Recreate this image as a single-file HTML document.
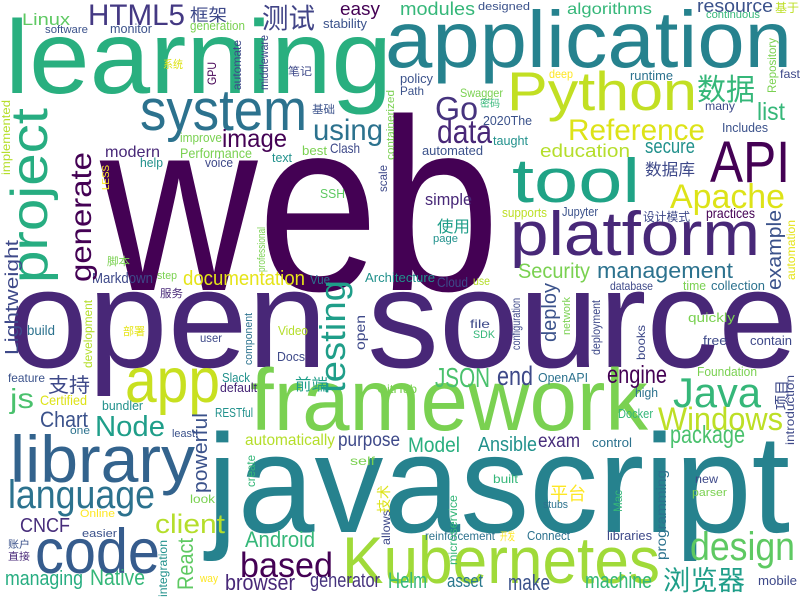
<!DOCTYPE html>
<html><head><meta charset="utf-8"><style>
html,body{margin:0;padding:0;background:#fff;}
svg{display:block;}
text{font-family:"Liberation Sans","Noto Sans CJK SC",sans-serif;}
</style></head><body>
<svg id="cloud" width="800" height="600" viewBox="0 0 800 600">
<rect width="800" height="600" fill="#fff"/>
</svg>
<script>
// word, x, baseline y, font size, color, width
const words = [
["web",100,290,245,"#440154",400],
["open source",8,367,140,"#482777",790],
["javascript",207,532,140,"#26828e",583],
["learning",5,93,104,"#29af7f",387],
["application",385,67,80,"#26828e",407],
["framework",250,430,87,"#7ad151",398],
["Kubernetes",342,583,66,"#a0da39",318],
["Python",507,110,55,"#c2df23",190],
["platform",510,255,62,"#482878",250],
["tool",512,202,62,"#20a386",128],
["API",710,182,58,"#440154",80],
["system",140,130,58,"#2c728e",167],
["library",10,482,66,"#33638d",185],
["code",35,573,63,"#365c8d",125],
["app",125,402,63,"#c8e020",95],
["Java",673,407,42,"#35b779",88],
["Windows",658,430,32,"#bddf26",125],
["design",690,560,40,"#5ec962",105],
["Apache",670,208,34,"#dde318",115],
["Reference",568,140,30,"#dde318",137],
["data",437,143,33,"#482878",55],
["Go",435,120,33,"#46337e",43],
["using",313,140,30,"#2c728e",70],
["HTML5",88,25,30,"#443983",97],
["image",222,147,25,"#440154",65],
["easy",340,15,18,"#440154",40],
["modules",400,15,18,"#35b779",75],
["algorithms",567,14,16,"#35b779",85],
["resource",697,12,18,"#3b528b",76],
["designed",478,10,11,"#3b528b",52],
["continuous",706,18,11,"#35b779",54],
["基于",775,12,12,"#bddf26",24],
["Linux",22,25,17,"#5ec962",48],
["software",45,33,11,"#3b528b",43],
["monitor",110,33,13,"#3b528b",42],
["generation",190,30,13,"#7ad151",55],
["stability",323,28,13,"#3b528b",44],
["测试",262,28,28,"#414487",53],
["框架",190,21,17,"#3e4989",37],
["系统",163,68,11,"#dde318",20],
["笔记",288,75,11,"#3e4989",24],
["基础",312,113,11,"#3b528b",23],
["list",757,120,25,"#35b779",28],
["数据",697,100,30,"#35b779",58],
["secure",645,153,20,"#21918c",50],
["数据库",645,175,16,"#3e4989",50],
["education",540,157,18,"#b5de2b",90],
["runtime",630,80,13,"#2c728e",43],
["deep",549,78,12,"#fde725",24],
["fast",780,78,12,"#3e4989",20],
["many",705,110,12,"#3e4989",30],
["Includes",722,132,13,"#3b528b",46],
["policy",400,83,13,"#3b528b",33],
["Path",400,95,12,"#3b528b",24],
["Swagger",460,97,12,"#7ad151",43],
["密码",480,107,10,"#35b779",20],
["2020The",483,125,13,"#3b528b",49],
["taught",493,145,13,"#21918c",35],
["automated",422,155,13,"#3b528b",61],
["simple",425,205,17,"#482878",47],
["使用",437,232,16,"#1f9e89",33],
["page",433,242,11,"#21918c",25],
["supports",502,217,13,"#bddf26",45],
["Jupyter",562,216,13,"#3b528b",36],
["设计模式",643,221,12,"#3e4989",47],
["practices",706,218,14,"#440154",49],
["Security",518,278,21,"#7ad151",72],
["management",597,278,22,"#2c728e",136],
["Cloud",437,287,14,"#3e4989",31],
["use",473,285,12,"#b5de2b",17],
["database",610,290,12,"#3e4989",43],
["time",683,290,13,"#7ad151",23],
["collection",711,290,13,"#2c728e",54],
["modern",105,157,16,"#482878",55],
["improve",180,142,13,"#7ad151",42],
["Performance",180,158,14,"#7ad151",72],
["help",140,167,13,"#21918c",23],
["voice",205,167,13,"#3e4989",28],
["text",272,162,13,"#21918c",20],
["best",302,155,13,"#7ad151",25],
["Clash",330,153,14,"#3e4989",30],
["SSH",320,198,13,"#5ec962",25],
["Markdown",92,283,15,"#3e4989",61],
["step",157,279,11,"#7ad151",20],
["脚本",107,265,11,"#7ad151",23],
["documentation",183,285,20,"#e5e419",122],
["Vue",310,284,13,"#2c728e",20],
["Architecture",365,282,13,"#21918c",70],
["服务",160,297,11,"#482878",23],
["build",27,335,14,"#2c728e",28],
["部署",123,335,11,"#e5e419",22],
["user",200,342,12,"#3e4989",22],
["Video",278,335,13,"#b5de2b",30],
["Docs",277,361,13,"#3e4989",28],
["feature",8,382,12,"#3b528b",37],
["支持",48,392,20,"#3e4989",42],
["Slack",222,382,13,"#21918c",28],
["default",220,392,13,"#482878",37],
["前端",295,390,16,"#1f9e89",33],
["Certified",40,405,14,"#dde318",47],
["bundler",102,410,13,"#21918c",41],
["GitHub",377,393,12,"#7ad151",40],
["Chart",40,427,22,"#3b528b",48],
["one",70,434,11,"#2c728e",20],
["RESTful",215,417,13,"#21918c",38],
["least",172,437,11,"#3b528b",23],
["automatically",245,445,16,"#b5de2b",90],
["purpose",338,446,19,"#3e4989",62],
["js",10,408,28,"#4ac16d",24],
["Node",95,436,29,"#1f9e89",70],
["language",8,508,40,"#2c728e",147],
["CNCF",20,532,20,"#472d7b",50],
["Online",80,517,11,"#fde725",35],
["easier",82,537,11,"#3b528b",35],
["账户",8,548,10,"#3b528b",22],
["直接",8,560,10,"#482878",22],
["client",155,533,27,"#b5de2b",70],
["Android",245,547,22,"#35b779",70],
["based",240,577,35,"#440154",93],
["managing",5,585,20,"#27ad81",78],
["Native",90,585,22,"#35b779",55],
["browser",225,590,22,"#482878",70],
["generator",310,587,20,"#46337e",70],
["way",200,582,11,"#fde725",18],
["look",190,503,12,"#7ad151",25],
["self",350,465,12,"#7ad151",25],
["JSON",435,387,28,"#4ac16d",55],
["end",497,385,27,"#3e4989",36],
["OpenAPI",538,382,13,"#2c728e",50],
["engine",607,383,25,"#440154",60],
["Foundation",697,376,13,"#7ad151",60],
["high",635,397,13,"#2c728e",23],
["file",470,328,12,"#3e4989",20],
["SDK",473,338,11,"#35b779",22],
["quickly",688,322,13,"#7ad151",47],
["free",703,345,13,"#3e4989",24],
["contain",750,345,13,"#3e4989",42],
["Docker",618,418,13,"#35b779",35],
["package",670,443,25,"#4ac16d",75],
["control",592,447,13,"#2c728e",40],
["exam",538,447,19,"#472d7b",42],
["Ansible",478,451,20,"#21918c",59],
["Model",408,452,21,"#29af7f",52],
["built",493,483,12,"#35b779",25],
["new",695,483,12,"#3e4989",23],
["parser",692,496,11,"#7ad151",35],
["平台",550,500,18,"#fde725",36],
["stubs",543,508,11,"#2c728e",25],
["reinforcement",425,540,12,"#2c728e",70],
["开发",500,540,11,"#fde725",15],
["Connect",527,540,13,"#2c728e",43],
["libraries",607,540,13,"#3e4989",45],
["浏览器",663,590,27,"#1f9e89",82],
["machine",585,588,22,"#35b779",67],
["make",508,590,22,"#3b528b",42],
["asset",447,587,18,"#2a788e",36],
["Helm",388,588,22,"#35b779",39],
["mobile",758,585,13,"#3e4989",39]
];
// word, baseline x, bottom y, font size, color, length
const verticals = [
["project",57,283,52,"#27ad81",175],
["testing",352,393,36,"#1f9e89",113],
["generate",97,282,30,"#440154",130],
["Lightweight",22,355,18,"#3e4989",115],
["powerful",211,493,20,"#3b528b",80],
["React",197,590,22,"#5ec962",52],
["deploy",560,342,20,"#3b528b",59],
["example",785,290,20,"#3b528b",80],
["open",368,350,14,"#3e4989",35],
["项目",790,410,15,"#3e4989",30],
["introduction",796,445,12,"#3e4989",70],
["Repository",778,93,12,"#7ad151",55],
["automation",797,280,12,"#e5e419",60],
["GPU",218,85,12,"#440154",23],
["automate",243,90,12,"#3e4989",50],
["middleware",270,90,12,"#3e4989",55],
["containerized",396,160,11,"#7ad151",70],
["implemented",12,175,12,"#b5de2b",75],
["LESS",111,190,10,"#fde725",25],
["scale",389,192,12,"#3e4989",27],
["professional",267,272,11,"#7ad151",45],
["development",94,368,12,"#b5de2b",68],
["component",254,365,11,"#2c728e",52],
["create",257,487,12,"#35b779",32],
["integration",169,597,12,"#21918c",57],
["allows",392,545,12,"#3e4989",35],
["技术",392,513,14,"#dde318",28],
["configuration",522,350,12,"#3e4989",52],
["network",572,335,11,"#7ad151",38],
["deployment",602,355,12,"#3e4989",55],
["books",647,360,12,"#3e4989",35],
["microservice",459,565,12,"#35b779",70],
["programming",669,560,14,"#2c728e",90],
["Mac",624,512,12,"#35b779",22]
];
const svg = document.getElementById('cloud');
const NS = 'http://www.w3.org/2000/svg';
words.forEach(w => {
  const t = document.createElementNS(NS, 'text');
  
  
  t.setAttribute('x', w[1]); t.setAttribute('y', w[2]);
  t.setAttribute('font-size', w[3]); t.setAttribute('fill', w[4]);
  t.setAttribute('textLength', w[5]); t.setAttribute('lengthAdjust', 'spacingAndGlyphs');
  t.textContent = w[0];
  svg.appendChild(t);
});
verticals.forEach(w => {
  const t = document.createElementNS(NS, 'text');
  
  
  t.setAttribute('x', 0); t.setAttribute('y', 0);
  t.setAttribute('transform', 'translate(' + (w[1] - Math.round(w[3]*0.2)) + ',' + w[2] + ') rotate(-90)');
  t.setAttribute('font-size', w[3]); t.setAttribute('fill', w[4]);
  t.setAttribute('textLength', w[5]); t.setAttribute('lengthAdjust', 'spacingAndGlyphs');
  t.textContent = w[0];
  svg.appendChild(t);
});
</script>
</body></html>
